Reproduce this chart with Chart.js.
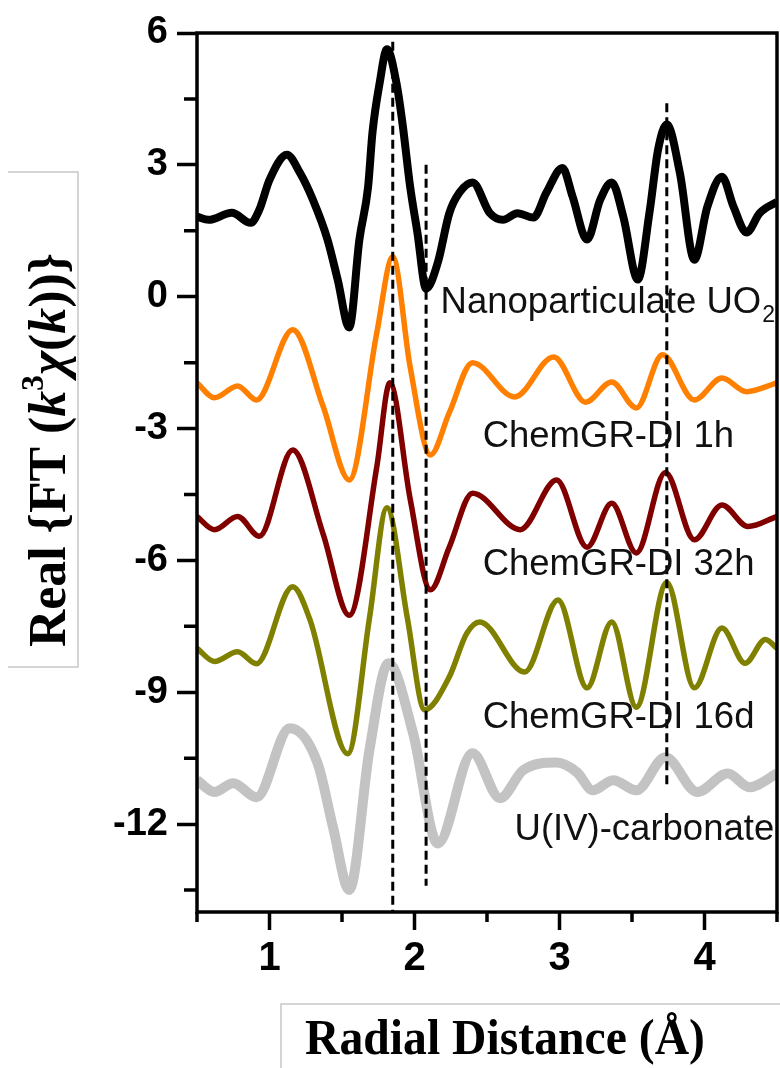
<!DOCTYPE html>
<html>
<head>
<meta charset="utf-8">
<script src="https://cdn.jsdelivr.net/npm/chart.js@4.4.0/dist/chart.umd.min.js"></script>
<style>html,body{margin:0;padding:0;background:#fff}</style>
</head>
<body>
<canvas id="chart" width="780" height="1068"></canvas>
<script>
// values: radial distance (Å) and Real FT, one pair per spectrum
const uo2R = [0.5, 0.58, 0.74, 0.87, 0.93, 1.0, 1.12, 1.21, 1.30, 1.40, 1.47, 1.55, 1.62, 1.68, 1.71, 1.76, 1.81, 1.88, 1.92, 1.97, 2.02, 2.08, 2.16, 2.24, 2.31, 2.40, 2.52, 2.61, 2.71, 2.82, 2.91, 3.02, 3.09, 3.19, 3.28, 3.36, 3.44, 3.54, 3.62, 3.68, 3.74, 3.83, 3.93, 4.02, 4.12, 4.20, 4.29, 4.38, 4.5];
const uo2Y = [1.82, 1.75, 1.91, 1.68, 1.98, 2.66, 3.23, 2.82, 2.2, 1.3, 0.39, -0.7, 1.3, 2.5, 3.73, 4.87, 5.63, 4.78, 3.87, 2.5, 1.46, 0.18, 0.77, 1.9, 2.37, 2.6, 1.9, 1.75, 1.9, 1.8, 2.37, 2.93, 2.28, 1.3, 2.2, 2.6, 1.82, 0.39, 1.9, 3.35, 3.92, 2.82, 0.84, 2.05, 2.73, 2.05, 1.46, 1.9, 2.16];

const h1R = [0.5, 0.62, 0.78, 0.91, 1.16, 1.37, 1.55, 1.74, 1.85, 1.97, 2.11, 2.24, 2.40, 2.69, 2.96, 3.18, 3.36, 3.53, 3.71, 3.93, 4.12, 4.29, 4.5];
const h1Y = [-1.96, -2.3, -2.03, -2.35, -0.75, -2.5, -4.17, -0.82, 0.91, -1.6, -3.6, -2.64, -1.5, -2.28, -1.37, -2.4, -1.94, -2.53, -1.32, -2.35, -1.85, -2.16, -1.96];

const h32R = [0.5, 0.62, 0.78, 0.93, 1.16, 1.37, 1.55, 1.74, 1.83, 1.97, 2.11, 2.24, 2.40, 2.73, 2.98, 3.19, 3.36, 3.53, 3.73, 3.93, 4.12, 4.30, 4.5];
const h32Y = [-5.0, -5.3, -5.0, -5.45, -3.49, -5.4, -7.25, -3.87, -1.96, -4.6, -6.67, -5.7, -4.47, -5.3, -4.17, -5.7, -4.7, -5.83, -4.0, -5.53, -4.74, -5.23, -5.0];

const d16R = [0.5, 0.62, 0.78, 0.91, 1.16, 1.28, 1.54, 1.69, 1.81, 1.95, 2.07, 2.24, 2.36, 2.45, 2.76, 2.99, 3.19, 3.36, 3.53, 3.74, 3.93, 4.12, 4.28, 4.42, 4.5];
const d16Y = [-8.0, -8.3, -8.08, -8.35, -6.6, -7.36, -10.4, -7.3, -4.8, -7.3, -9.4, -8.65, -7.66, -7.4, -8.54, -6.9, -8.9, -7.4, -9.34, -6.5, -8.9, -7.54, -8.34, -7.8, -8.0];

const carbR = [0.5, 0.62, 0.75, 0.91, 1.14, 1.33, 1.44, 1.55, 1.69, 1.82, 1.99, 2.16, 2.40, 2.59, 2.75, 2.98, 3.12, 3.23, 3.37, 3.53, 3.73, 3.95, 4.16, 4.31, 4.5];
const carbY = [-11.0, -11.27, -11.07, -11.39, -9.82, -10.6, -12.1, -13.5, -10.3, -8.34, -9.93, -12.44, -10.39, -11.41, -10.77, -10.6, -10.82, -11.23, -11.0, -11.23, -10.48, -11.27, -10.85, -11.16, -10.85];

// dashed reference lines: position and vertical extent
const refR = [1.85, 2.08, 3.74];
const refTop = [5.8, 3.0, 4.4];
const refBottom = [-14, -13.4, -11.1];

const labelNames = ['Nanoparticulate UO', 'ChemGR-DI 1h', 'ChemGR-DI 32h', 'ChemGR-DI 16d', 'U(IV)-carbonate'];
const labelR = [2.18, 2.47, 2.47, 2.47, 2.69];
const labelY = [-0.14, -3.19, -6.1, -9.58, -12.13];

const yTicks = [-12, -9, -6, -3, 0, 3, 6];
const yMinor = [-13.5, -10.5, -7.5, -4.5, -1.5, 1.5, 4.5];
const xTicks = [1, 2, 3, 4];
const xMinor = [0.5, 1.5, 2.5, 3.5, 4.5];

const pts = (xs, ys) => xs.map((x, i) => ({x: x, y: ys[i]}));

const SANS = '"Liberation Sans", Arial, sans-serif';
const SERIF = '"Liberation Serif", "Times New Roman", serif';

// text runs drawn one after another, stretched to a given length
function drawRuns(ctx, runs, size, targetW) {
    let w = 0;
    for (let r of runs) {
        ctx.font = (r.style || '') + ' bold ' + Math.round(size * (r.sup ? 0.62 : 1)) + 'px ' + SERIF;
        r.w = ctx.measureText(r.t).width;
        w += r.w;
    }
    let k = targetW / w;
    ctx.save();
    ctx.scale(k, 1);
    let x = -w / 2;
    for (let r of runs) {
        ctx.font = (r.style || '') + ' bold ' + Math.round(size * (r.sup ? 0.62 : 1)) + 'px ' + SERIF;
        ctx.fillText(r.t, x, r.sup ? -size * 0.42 : 0);
        x += r.w;
    }
    ctx.restore();
}

const decor = {
    id: 'decor',
    afterDraw(chart) {
        const ctx = chart.ctx, a = chart.chartArea;
        const xs = chart.scales.x, ys = chart.scales.y;
        ctx.save();
        // frame
        ctx.strokeStyle = '#000';
        ctx.lineWidth = 3.5;
        ctx.strokeRect(a.left, a.top, a.right - a.left, a.bottom - a.top);
        // minor ticks
        ctx.beginPath();
        for (let v of yMinor) {
            let p = ys.getPixelForValue(v);
            ctx.moveTo(a.left - 13, p); ctx.lineTo(a.left, p);
        }
        for (let v of xMinor) {
            let p = xs.getPixelForValue(v);
            ctx.moveTo(p, a.bottom); ctx.lineTo(p, a.bottom + 10);
        }
        ctx.stroke();

        // curve names
        ctx.fillStyle = '#111';
        ctx.textBaseline = 'middle';
        ctx.textAlign = 'left';
        labelNames.forEach((t, i) => {
            let px = xs.getPixelForValue(labelR[i]), py = ys.getPixelForValue(labelY[i]);
            ctx.font = '36.5px ' + SANS;
            ctx.fillText(t, px, py);
            if (i === 0) {
                let w = ctx.measureText(t).width;
                ctx.font = '23px ' + SANS;
                ctx.fillText('2', px + w + 1, py + 13);
            }
        });

        // axis title boxes
        ctx.strokeStyle = '#c8c8c8';
        ctx.lineWidth = 1.5;
        ctx.beginPath();
        ctx.moveTo(8, 172); ctx.lineTo(78, 172); ctx.lineTo(78, 667); ctx.lineTo(8, 667);
        ctx.moveTo(281, 1068); ctx.lineTo(281, 1004); ctx.lineTo(780, 1004);
        ctx.stroke();

        // y title
        ctx.fillStyle = '#000';
        ctx.textBaseline = 'alphabetic';
        ctx.save();
        ctx.translate(65, 450);
        ctx.rotate(-Math.PI / 2);
        drawRuns(ctx, [
            {t: 'Real {FT ('},
            {t: 'k', style: 'italic'},
            {t: '3', sup: true},
            {t: '\u03c7', style: 'italic'},
            {t: '('},
            {t: 'k', style: 'italic'},
            {t: '))}'}
        ], 52, 394);
        ctx.restore();

        // x title
        ctx.save();
        ctx.translate(505, 1054);
        drawRuns(ctx, [{t: 'Radial Distance (\u00c5)'}], 51, 400);
        ctx.restore();
        ctx.restore();
    }
};

const curve = (data, color, width) => ({
    data: data,
    borderColor: color,
    borderWidth: width,
    pointRadius: 0,
    cubicInterpolationMode: 'monotone',
    order: 1
});

const datasets = refR.map((r, i) => ({
    data: [{x: r, y: refTop[i]}, {x: r, y: refBottom[i]}],
    borderColor: '#000',
    borderWidth: 3,
    borderDash: [9, 5],
    pointRadius: 0,
    order: 0
}));
datasets.push(curve(pts(uo2R, uo2Y), '#000000', 8));
datasets.push(curve(pts(h1R, h1Y), '#ff8000', 5.5));
datasets.push(curve(pts(h32R, h32Y), '#800000', 5.5));
datasets.push(curve(pts(d16R, d16Y), '#808000', 5.5));
datasets.push(curve(pts(carbR, carbY), '#c3c3c3', 10));

new Chart(document.getElementById('chart').getContext('2d'), {
    type: 'line',
    data: {datasets: datasets},
    options: {
        responsive: false,
        animation: false,
        layout: {padding: {top: 33, right: 3, left: 0, bottom: 0}},
        plugins: {legend: {display: false}, tooltip: {enabled: false}},
        scales: {
            x: {
                type: 'linear',
                min: 0.5, max: 4.5,
                afterFit: s => { s.height = 156; },
                afterBuildTicks: s => { s.ticks = xTicks.map(v => ({value: v})); },
                border: {display: false},
                grid: {drawOnChartArea: false, drawTicks: true, tickLength: 18, tickWidth: 3.5, tickColor: '#000'},
                ticks: {padding: 5, color: '#000', font: {family: SANS, size: 40, weight: 'bold'}, maxRotation: 0}
            },
            y: {
                min: -14, max: 6,
                afterFit: s => { s.width = 197; },
                afterBuildTicks: s => { s.ticks = yTicks.map(v => ({value: v})); },
                border: {display: false},
                grid: {drawOnChartArea: false, drawTicks: true, tickLength: 20, tickWidth: 3.5, tickColor: '#000'},
                ticks: {padding: 9, color: '#000', font: {family: SANS, size: 38, weight: 'bold'}}
            }
        }
    },
    plugins: [decor]
});
</script>
</body>
</html>
